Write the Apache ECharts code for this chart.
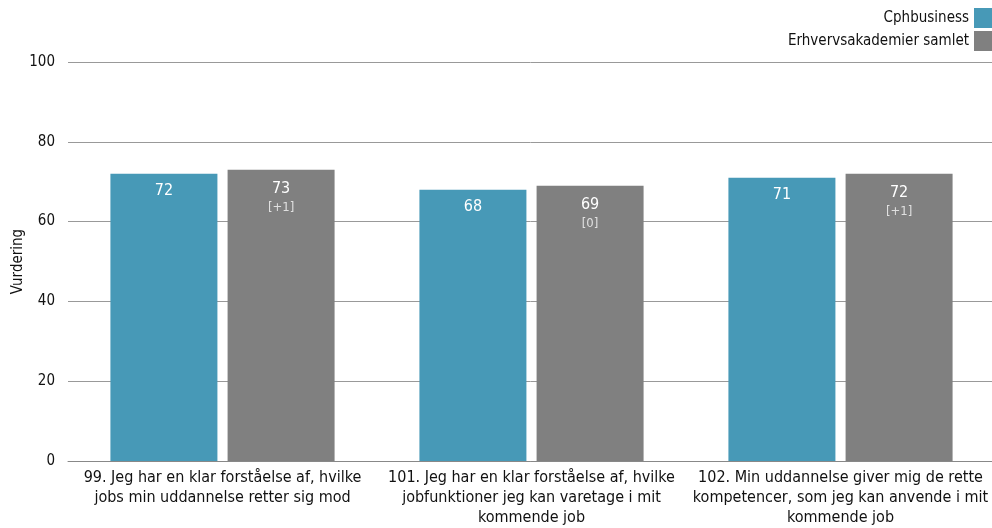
<!DOCTYPE html>
<html>
<head>
<meta charset="utf-8">
<script src="https://cdn.jsdelivr.net/npm/echarts@6/dist/echarts.min.js"></script>
<style>
  html, body { margin: 0; padding: 0; background: #fff; }
  #chart { width: 992px; height: 528px; }
</style>
</head>
<body>
<div id="chart"></div>
<script>
// Questions on the x axis
const categories = [
  '99. Jeg har en klar forståelse af, hvilke\njobs min uddannelse retter sig mod',
  '101. Jeg har en klar forståelse af, hvilke\njobfunktioner jeg kan varetage i mit\nkommende job',
  '102. Min uddannelse giver mig de rette\nkompetencer, som jeg kan anvende i mit\nkommende job'
];
const seriesNames = ['Cphbusiness', 'Erhvervsakademier samlet'];
const cphValues = [72, 68, 71];
const eaValues = [73, 69, 72];
const eaDiffs = ['+1', '0', '+1'];
const yTicks = [0, 20, 40, 60, 80, 100];

const FONT = '"DejaVu Sans Condensed", "DejaVu Sans", sans-serif';

const chart = echarts.init(document.getElementById('chart'), null, { renderer: 'canvas' });
chart.setOption({
  animation: false,
  textStyle: { fontFamily: FONT },
  color: ['#4799b7', '#808080'],
  legend: {
    orient: 'vertical',
    right: 0,
    top: 8,
    padding: 0,
    align: 'right',
    icon: 'rect',
    itemWidth: 18,
    itemHeight: 20,
    itemGap: 3,
    textStyle: { fontFamily: FONT, fontSize: 15, color: '#111' },
    data: seriesNames
  },
  grid: { left: 68, right: -3, top: 62, bottom: 67, outerBoundsMode: 'none', containLabel: false },
  xAxis: {
    type: 'category',
    data: categories,
    axisTick: { show: false },
    axisLine: { lineStyle: { color: '#888', width: 1 } },
    axisLabel: { fontFamily: FONT, fontSize: 16, color: '#111', lineHeight: 20, margin: 7, interval: 0 }
  },
  yAxis: {
    type: 'value',
    min: yTicks[0],
    max: yTicks[yTicks.length - 1],
    interval: 20,
    name: 'Vurdering',
    nameLocation: 'middle',
    nameGap: 42,
    nameMoveOverlap: false,
    nameTextStyle: { fontFamily: FONT, fontSize: 15, color: '#111' },
    axisLine: { show: false },
    axisTick: { show: false },
    axisLabel: { fontFamily: FONT, fontSize: 15, color: '#111', margin: 13 },
    splitLine: { lineStyle: { color: '#999', width: 1 } }
  },
  series: [
    {
      name: seriesNames[0],
      type: 'bar',
      data: cphValues,
      barWidth: 107,
      barGap: '9.5%',
      label: {
        show: true,
        position: 'insideTop',
        distance: 9,
        color: '#fff',
        fontFamily: FONT,
        fontSize: 16
      }
    },
    {
      name: seriesNames[1],
      type: 'bar',
      data: eaValues,
      barWidth: 107,
      label: {
        show: true,
        position: 'insideTop',
        distance: 9,
        fontFamily: FONT,
        formatter: p => '{v|' + p.value + '}\n{d|[' + eaDiffs[p.dataIndex] + ']}',
        rich: {
          v: { color: '#fff', fontSize: 16, fontFamily: FONT, lineHeight: 20 },
          d: { color: '#e0e0e0', fontSize: 13, fontFamily: FONT, lineHeight: 18 }
        }
      }
    }
  ]
});
</script>
</body>
</html>
